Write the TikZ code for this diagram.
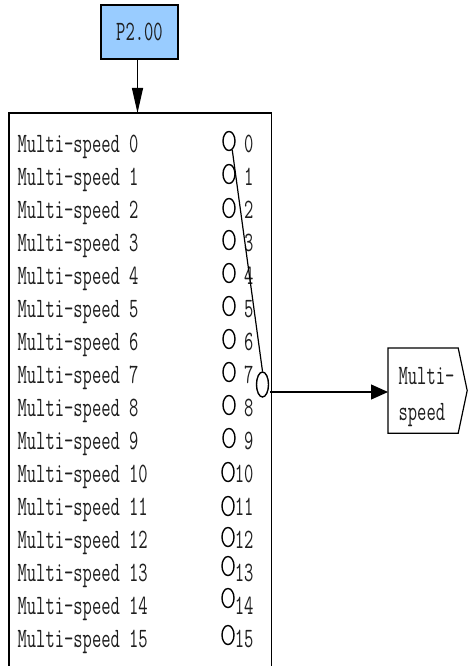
\documentclass[tikz,border=0pt]{standalone}
\usepackage{fontspec}
\newfontfamily\cfont[FakeStretch=0.645]{Latin Modern Mono}
\usetikzlibrary{arrows.meta,shapes.geometric}
\definecolor{pblue}{RGB}{153,204,255}
\definecolor{txt}{RGB}{30,30,30}
\begin{document}
\begin{tikzpicture}[x=1pt,y=-1pt,
  font=\cfont\fontsize{28}{28}\selectfont,
  line width=1.2pt,
  lbl/.style={anchor=base west, inner sep=0, text=txt},
  num/.style={anchor=base east, inner sep=0, text=txt},
  sel/.style={ellipse, draw, line width=1.4pt, minimum width=12pt, minimum height=19pt, inner sep=0},
  vtip/.style={-{Triangle[length=25pt,width=11pt]}},
  htip/.style={-{Triangle[length=17pt,width=15pt]}}]
\useasboundingbox (0,0) rectangle (467,666);

% parameter box
\node[draw, fill=pblue, minimum width=77pt, minimum height=54pt, inner sep=0, text=txt] (p) at (139.5,32) {P2.00};

% main box (open at the bottom edge of the picture)
\node[minimum width=261pt, minimum height=553pt, inner sep=0, anchor=north west] (main) at (9,113) {};
\draw (main.south west) -- (main.north west) -- (main.north east) -- (main.south east);

\draw[vtip] ([xshift=-2pt]p.south) -- ([xshift=-2pt]p.south |- main.north);

% rows
\foreach \i/\o/\cx in {0/11/229,1/11/229,2/10/229,3/11/229,4/11/229,5/11/229,6/11/229,7/11/229,8/11/229,9/11/229,10/10/228,11/9/228,12/11/228,13/15/228,14/16/228,15/12/228}{
  \node[lbl] (l\i) at (17,152+33*\i) {Multi-speed \i};
  \node[num] (n\i) at (254,152+33*\i) {\i};
  \node[sel] (c\i) at (\cx,152+33*\i-\o) {};
}

% selector switch
\node[sel, minimum width=12pt, minimum height=25pt] (sw) at (262.5,384.5) {};
\draw (c0.-70) -- (sw.north);

% output
\node[minimum width=69pt, minimum height=84pt, inner sep=0, anchor=north west] (t) at (388,348) {};
\draw (t.north west) -- (t.north east) -- ([xshift=9pt]t.east) -- (t.south east) -- (t.south west) -- cycle;
\node[lbl] (t1) at (398,384) {Multi-};
\node[lbl] (t2) at (398,420) {speed};

\coordinate (a) at (270,392);
\draw[htip] (a) -- (a -| t.west);
\end{tikzpicture}
\end{document}
